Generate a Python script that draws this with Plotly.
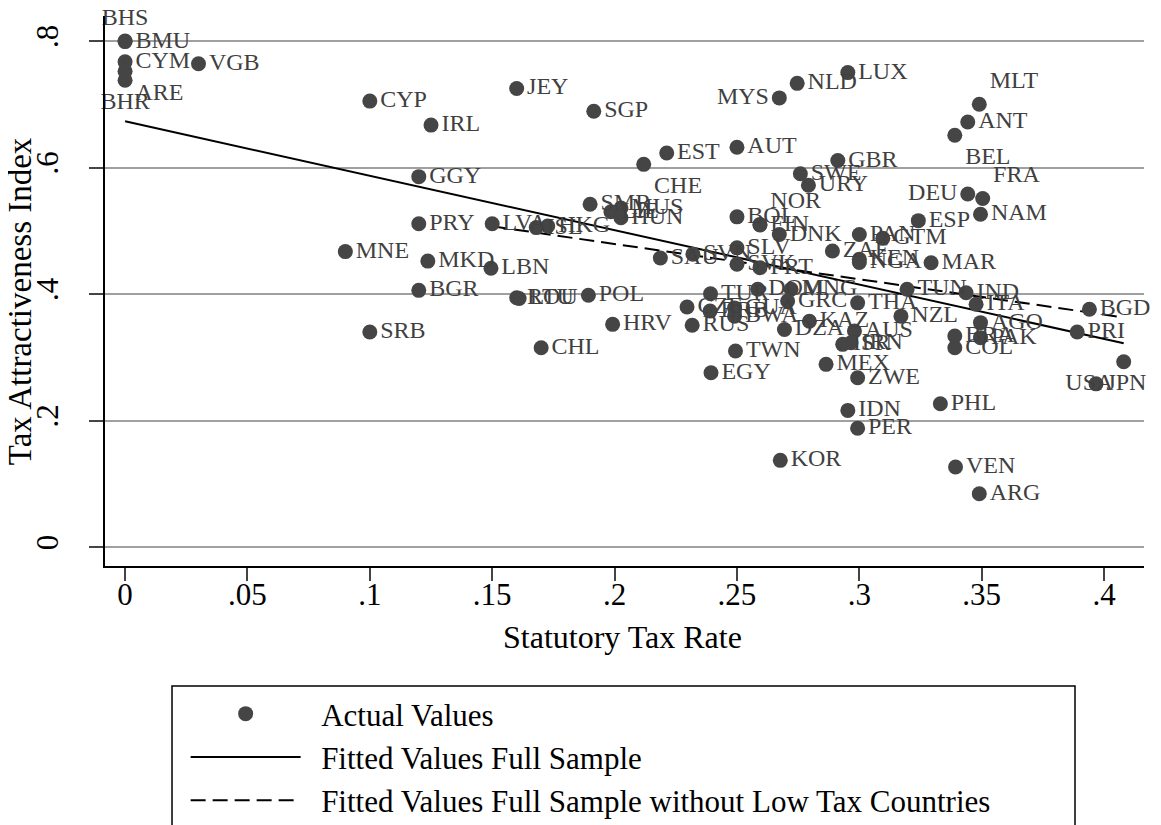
import plotly.graph_objects as go

# ------------ Tax attractiveness vs statutory tax rate ---------------------------

countries = ["BHS", "BMU", "CYM", "ARE", "BHR", "VGB", "CYP", "IRL", "JEY", "SGP",
             "MYS", "NLD", "LUX", "MLT", "ANT", "BEL", "AUT", "EST", "CHE", "GBR",
             "SWE", "URY", "GGY", "DEU", "FRA", "NAM", "ESP", "BOL", "FIN", "NOR",
             "DNK", "PAN", "GTM", "ZAF", "KEN", "NGA", "MAR", "SLV", "SVK", "PRT",
             "SAU", "SVN", "LVA", "ISL", "HKG", "PRY", "MNE", "MKD", "LBN", "BGR",
             "ROU", "LTU", "POL", "SRB", "CHL", "HRV", "RUS", "TUR", "CZE", "BRB",
             "GUA", "BWA", "DOM", "MNG", "GRC", "THA", "KAZ", "DZA", "AUS", "ISR",
             "IRN", "NZL", "AGO", "BRA", "PAK", "COL", "IND", "ITA", "TUN", "BGD",
             "PRI", "USA", "JPN", "MEX", "ZWE", "IDN", "PER", "PHL", "KOR", "VEN",
             "ARG", "TWN", "EGY", "SMR", "LIE", "MUS", "HUN"]

tax_rate = [0.0, 0.0, 0.0, 0.0, 0.0, 0.03, 0.10, 0.125, 0.16, 0.1915,
            0.2673, 0.2746, 0.2953, 0.349, 0.3443, 0.339, 0.25, 0.2213, 0.2119, 0.2912,
            0.2759, 0.2792, 0.12, 0.3443, 0.3504, 0.3495, 0.3241, 0.25, 0.2594, 0.2594,
            0.2673, 0.30, 0.3096, 0.289, 0.30, 0.30, 0.3293, 0.25, 0.25, 0.2594,
            0.2187, 0.232, 0.15, 0.168, 0.1727, 0.12, 0.09, 0.1237, 0.1495, 0.12,
            0.16, 0.161, 0.1893, 0.10, 0.17, 0.1992, 0.2317, 0.2392, 0.2296, 0.239,
            0.249, 0.249, 0.2585, 0.2721, 0.2707, 0.2993, 0.2796, 0.2694, 0.298, 0.2932,
            0.2966, 0.317, 0.3495, 0.339, 0.3495, 0.339, 0.3436, 0.3477, 0.3195, 0.394,
            0.389, 0.408, 0.3967, 0.2864, 0.2993, 0.2953, 0.2993, 0.3331, 0.2677, 0.3393,
            0.349, 0.2494, 0.2394, 0.19, 0.1985, 0.2026, 0.2026]

tai = [0.800, 0.799, 0.767, 0.752, 0.738, 0.764, 0.705, 0.667, 0.725, 0.689,
       0.710, 0.733, 0.750, 0.700, 0.672, 0.651, 0.632, 0.623, 0.605, 0.611,
       0.590, 0.572, 0.5855, 0.558, 0.551, 0.526, 0.516, 0.522, 0.509, 0.510,
       0.494, 0.494, 0.488, 0.468, 0.455, 0.450, 0.4495, 0.473, 0.447, 0.4416,
       0.457, 0.463, 0.511, 0.505, 0.5075, 0.511, 0.467, 0.452, 0.4406, 0.4058,
       0.394, 0.393, 0.398, 0.340, 0.315, 0.352, 0.3505, 0.4005, 0.3794, 0.373,
       0.378, 0.365, 0.4074, 0.4074, 0.389, 0.386, 0.357, 0.344, 0.3415, 0.3204,
       0.323, 0.365, 0.3547, 0.3336, 0.331, 0.315, 0.402, 0.3837, 0.4074, 0.3758,
       0.340, 0.293, 0.258, 0.2888, 0.2677, 0.216, 0.1877, 0.2266, 0.137, 0.1265,
       0.0843, 0.310, 0.2756, 0.542, 0.530, 0.536, 0.5206]

# where each label sits relative to its dot
label_pos = {"BHS": "top center", "ARE": "bottom right", "BHR": "bottom center",
             "MYS": "middle left", "MLT": "top right", "BEL": "bottom right",
             "CHE": "bottom right", "DEU": "middle left", "FRA": "top right",
             "NOR": "top right", "USA": "bottom left"}
positions = [label_pos.get(c, "middle right") for c in countries]

# fitted lines (end points)
fit_full_x = [0.0, 0.408]
fit_full_y = [0.673, 0.322]
fit_high_x = [0.15, 0.408]
fit_high_y = [0.507, 0.363]

x_ticks = [0, 0.05, 0.1, 0.15, 0.2, 0.25, 0.3, 0.35, 0.4]
x_ticktext = ["0", ".05", ".1", ".15", ".2", ".25", ".3", ".35", ".4"]
y_ticks = [0, 0.2, 0.4, 0.6, 0.8]
y_ticktext = ["0", ".2", ".4", ".6", ".8"]

FONT = "Liberation Serif"
DOT = "#454545"
DASH = "15px,7px"

fig = go.Figure()
fig.add_trace(go.Scatter(x=fit_full_x, y=fit_full_y, mode="lines",
                         line=dict(color="black", width=2), showlegend=False))
fig.add_trace(go.Scatter(x=fit_high_x, y=fit_high_y, mode="lines",
                         line=dict(color="black", width=2, dash=DASH), showlegend=False))
fig.add_trace(go.Scatter(x=tax_rate, y=tai, mode="markers+text", text=countries,
                         textposition=positions,
                         textfont=dict(family=FONT, size=24, color="#404040"),
                         marker=dict(size=15, color=DOT), showlegend=False,
                         cliponaxis=False))

# legend-only entries
fig.add_trace(go.Scatter(x=[None], y=[None], mode="markers", name="\u2002Actual Values",
                         marker=dict(size=15, color=DOT), legendgroup="a"))
fig.add_trace(go.Scatter(x=[None], y=[None], mode="lines",
                         name="\u2002Fitted Values Full Sample",
                         line=dict(color="black", width=2), legendgroup="b"))
fig.add_trace(go.Scatter(x=[None], y=[None], mode="lines",
                         name="\u2002Fitted Values Full Sample without Low Tax Countries",
                         line=dict(color="black", width=2, dash=DASH), legendgroup="c"))

# legend frame (runs off the bottom of the page, as in the original)
fig.add_shape(type="rect", xref="paper", yref="paper", x0=0.0645, x1=0.9336,
              y0=-0.6, y1=-0.2182, line=dict(color="black", width=1.5))

# axis titles
fig.add_annotation(text="Tax Attractiveness Index", xref="paper", yref="paper",
                   x=-0.0815, y=0.482, textangle=-90, showarrow=False,
                   xanchor="center", yanchor="middle", font=dict(size=33, family=FONT))
fig.add_annotation(text="Statutory Tax Rate", xref="paper", yref="paper",
                   x=0.4976, y=-0.129, showarrow=False,
                   xanchor="center", yanchor="middle", font=dict(size=32, family=FONT))

fig.update_layout(
    width=1161, height=825,
    margin=dict(l=97, r=25, t=8, b=267, autoexpand=False),
    paper_bgcolor="white", plot_bgcolor="white",
    font=dict(family=FONT, color="black"),
    showlegend=True,
    legend=dict(xref="container", yref="container", x=0.153, y=0.177,
                xanchor="left", yanchor="top", font=dict(size=31, family=FONT),
                itemwidth=110, tracegroupgap=0, bgcolor="rgba(0,0,0,0)"),
    xaxis=dict(range=[-0.0082, 0.4163], tickvals=x_ticks, ticktext=x_ticktext,
               showgrid=False, zeroline=False, showline=True, linecolor="black",
               linewidth=2, ticks="outside", ticklen=13, tickwidth=1.5,
               tickfont=dict(size=31), ticklabelstandoff=-13),
    yaxis=dict(range=[-0.030, 0.8395], tickvals=y_ticks, ticktext=y_ticktext,
               showgrid=True, gridcolor="#a0a0a0", gridwidth=1.5, zeroline=False,
               showline=True, linecolor="black", linewidth=2, ticks="outside",
               ticklen=14, tickwidth=1.5, tickangle=-90, tickfont=dict(size=31),
               ticklabelstandoff=19),
)

fig.write_html("out.html")
